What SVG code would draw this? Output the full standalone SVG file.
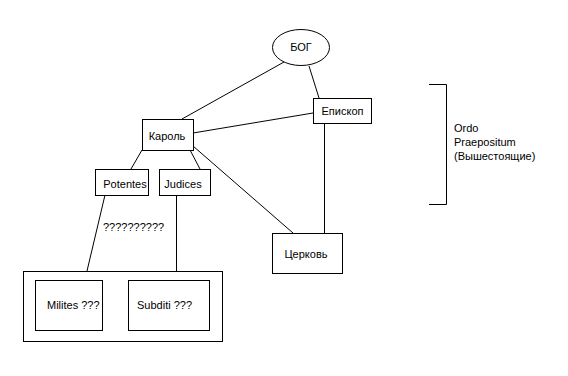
<svg xmlns="http://www.w3.org/2000/svg" width="568" height="376" viewBox="0 0 568 376">
<style>
.n{fill:#fff;stroke:#000;stroke-width:1}
.c{stroke:#000;stroke-width:1;fill:none}
text{font-family:"Liberation Sans",Arial,sans-serif;font-size:11px;fill:#000}
.m{text-anchor:middle}
</style>
<rect width="568" height="376" fill="#fff"/>
<g id="connectors">
<line class="c" x1="284" y1="62" x2="182" y2="119"/>
<line class="c" x1="309" y1="66" x2="319" y2="98"/>
<line class="c" x1="193" y1="133" x2="313" y2="113"/>
<line class="c" x1="142" y1="150" x2="131" y2="169"/>
<line class="c" x1="190" y1="150" x2="200" y2="169"/>
<line class="c" x1="193" y1="146" x2="293" y2="233"/>
<line class="c" x1="324.5" y1="123" x2="324.5" y2="233"/>
<line class="c" x1="105" y1="195" x2="87" y2="271"/>
<line class="c" x1="176.5" y1="195" x2="176.5" y2="271"/>
<text x="103" y="231">??????????</text>
</g>
<g id="bog">
<ellipse class="n" cx="301" cy="47.5" rx="28.5" ry="18"/>
<text class="m" x="301" y="51">БОГ</text>
</g>
<g id="episkop">
<rect class="n" x="313.5" y="98.5" width="58" height="25"/>
<text class="m" x="342.5" y="115">Епископ</text>
</g>
<g id="karol">
<rect class="n" x="142.5" y="119.5" width="51" height="31"/>
<text class="m" x="167" y="140">Кароль</text>
</g>
<g id="potentes">
<rect class="n" x="95.5" y="169.5" width="53" height="26"/>
<text class="m" x="125" y="188">Potentes</text>
</g>
<g id="judices">
<rect class="n" x="159.5" y="169.5" width="51" height="26"/>
<text class="m" x="183" y="188">Judices</text>
</g>
<g id="cerkov">
<rect class="n" x="272.5" y="233.5" width="70" height="40"/>
<text class="m" x="306" y="258">Церковь</text>
</g>
<g id="group">
<rect class="n" x="23.5" y="271.5" width="199" height="70"/>
</g>
<g id="milites">
<rect class="n" x="35.5" y="280.5" width="67" height="50"/>
<text x="47" y="309">Milites ???</text>
</g>
<g id="subditi">
<rect class="n" x="128.5" y="280.5" width="81" height="50"/>
<text x="137" y="309">Subditi ???</text>
</g>
<g id="bracket">
<polyline class="c" points="429,84.5 446.5,84.5 446.5,204.5 429,204.5"/>
<text x="454" y="132">Ordo</text>
<text x="454" y="146">Praepositum</text>
<text x="454" y="160">(Вышестоящие)</text>
</g>
</svg>
